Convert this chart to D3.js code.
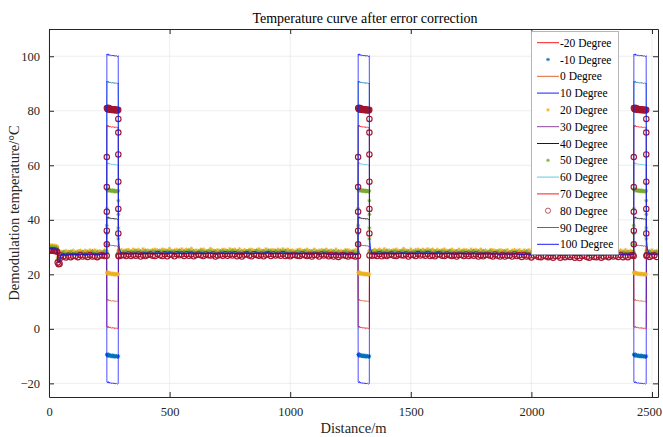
<!DOCTYPE html>
<html>
<head>
<meta charset="utf-8">
<script src="https://cdn.jsdelivr.net/npm/d3@7/dist/d3.min.js"></script>
<style>
  body { margin: 0; background: #fff; }
  svg { display: block; font-family: "Liberation Serif", "Times New Roman", serif; }
</style>
</head>
<body>
<svg id="chart" width="663" height="437"></svg>
<script>
// ---- data ----
const xTicks = [0, 500, 1000, 1500, 2000, 2500];
const yTicks = [-20, 0, 20, 40, 60, 80, 100];

// fibre start, before the regular grid (m, °C)
const headDistance = [0, 5, 10, 15, 20, 25, 30, 34, 36, 40, 44, 48];
const headTemp = [29.5, 29.7, 29.6, 29.7, 29.5, 29.6, 29.4, 29.2, 25.2, 24.6, 24.8, 27.0];

// room temperature along the fibre, every 10 m from 50 m to 2520 m
const gridStart = 50, gridStep = 10;
const baseTemp = [
  27.4, 27.5, 27.3, 27.4, 27.6, 27.5, 27.4, 27.5, 27.6, 27.5, 27.4, 27.5, 27.6, 27.7, 27.5, 27.6, 27.5, 27.6, 27.7, 27.6,
  27.6, 27.6, 27.6, 27.6, 27.9, 27.7, 27.8, 27.9, 27.8, 27.7, 27.8, 27.9, 27.8, 27.7, 27.9, 28.0, 27.8, 27.9, 27.8, 27.9,
  28.0, 27.9, 27.8, 28.0, 27.9, 28.1, 27.9, 27.8, 27.9, 28.0, 27.9, 27.8, 27.9, 28.0, 28.1, 27.9, 27.8, 27.9, 28.0, 27.9,
  27.8, 27.9, 28.0, 27.9, 27.8, 27.7, 27.9, 28.0, 27.9, 27.8, 27.9, 28.0, 27.9, 27.8, 27.9, 27.8, 27.9, 28.0, 27.9, 27.8,
  27.9, 28.0, 27.9, 27.8, 27.9, 28.0, 28.1, 27.9, 27.8, 27.9, 27.8, 27.9, 28.0, 27.9, 27.8, 27.9, 27.8, 27.7, 27.8, 27.9,
  27.8, 27.9, 27.8, 27.7, 27.8, 27.9, 27.8, 27.7, 27.8, 27.9, 27.8, 27.7, 27.6, 27.7, 27.8, 27.7, 27.6, 27.7, 27.8, 27.7,
  27.6, 27.7, 27.6, 27.6, 27.6, 27.6, 27.6, 27.6, 27.9, 27.8, 27.7, 27.8, 27.9, 27.8, 27.9, 28.0, 27.8, 27.9, 27.8, 27.9,
  27.8, 27.9, 28.0, 27.9, 27.8, 27.9, 27.8, 27.9, 28.0, 27.9, 27.8, 27.9, 28.0, 27.9, 27.8, 27.9, 28.0, 27.9, 27.8, 27.9,
  27.8, 27.9, 27.8, 27.7, 27.8, 27.9, 27.8, 27.9, 27.8, 27.7, 27.8, 27.9, 27.8, 27.7, 27.8, 27.9, 27.8, 27.7, 27.8, 27.7,
  27.8, 27.7, 27.6, 27.7, 27.8, 27.7, 27.6, 27.7, 27.8, 27.7, 27.6, 27.5, 27.6, 27.7, 27.6, 27.5, 27.6, 27.5, 27.4, 27.5,
  27.4, 27.5, 27.4, 27.3, 27.4, 27.5, 27.4, 27.3, 27.4, 27.3, 27.4, 27.5, 27.4, 27.3, 27.4, 27.3, 27.4, 27.5, 27.4, 27.3,
  27.4, 27.3, 27.4, 27.5, 27.4, 27.3, 27.4, 27.5, 27.4, 27.5, 27.4, 27.5, 27.6, 27.5, 27.6, 27.6, 27.6, 27.6, 27.6, 27.6,
  27.6, 27.6, 27.6, 27.6, 27.7, 27.6, 27.7, 27.6
];
// second reading scatter around it, for the marker series (°C, same grid)
const scatter = [
  0.3, -0.2, 0.4, -0.3, 0.1, -0.4, 0.2, 0.3, -0.1, -0.3, 0.4, 0.0, -0.2, 0.3, -0.4, 0.1, 0.2, -0.3, 0.4, -0.1
];

// heated sections of the fibre (m)
const heatStart = [240, 1282, 2425];
const heatEnd = [287, 1328, 2476];
// small ripple along each heated section (°C, added to the level)
const plateauShape = [0.6, 0.2, 0.7, 0.1, 0.4, 0.0, 0.3, 0.1, -0.1, 0.2, -0.1, 0.2, -0.2, 0.1, -0.2, 0.0, -0.1, -0.3, 0.0];

const seriesNames = ['-20 Degree', '-10 Degree', '0 Degree', '10 Degree', '20 Degree', '30 Degree', '40 Degree',
  '50 Degree', '60 Degree', '70 Degree', '80 Degree', '90 Degree', '100 Degree'];
const seriesColors = ['#ff0000', '#0072bd', '#d95319', '#0000ff', '#edb120', '#7e2f8e', '#000000',
  '#77ac30', '#4dbeee', '#ff0000', '#a2142f', '#0072bd', '#0000ff'];
const seriesMarker = ['line', 'star', 'line', 'line', 'star', 'line', 'line',
  'star', 'line', 'line', 'circle', 'line', 'line'];
// level reached inside the heated sections
const seriesLevel = [0.3, -10, 10.2, -20, 20.1, 30.5, 40.4, 50.6, 60.3, 74.0, 80.4, 90.2, 100.2];
// shift of each series against the room temperature curve
const seriesOffset = [-0.1, 0.3, 0.0, -0.2, 1.0, 0.1, 0.3, 0.4, 0.1, -0.3, -0.9, 0.0, -0.2];
// points caught on the rising / falling edge
const edgeUp = { '80 Degree': [31, 36, 43, 52, 63], '50 Degree': [31, 35, 38, 44] };
const edgeDown = { '80 Degree': [77, 72, 64, 54, 44, 35], '50 Degree': [47, 42, 37, 33] };
// overshoot just after each heated section
const tailTemp = { '100 Degree': [34, 30.5, 28.6], '90 Degree': [32.5, 29.5] };

// ---- layout ----
const svg = d3.select('#chart');
const margin = { left: 49, right: 5, top: 29, bottom: 40 };
const W = 663, H = 437;
const x = d3.scaleLinear([0, 2525], [margin.left, W - margin.right]);
const y = d3.scaleLinear([-25, 110], [H - margin.bottom, margin.top]);
const [x0, x1] = x.range();
const [y0, y1] = y.range();
const serif = '"Liberation Serif", "Times New Roman", serif';

function baseAt(d) {
  const i = Math.max(0, Math.min(baseTemp.length - 1, Math.round((d - gridStart) / gridStep)));
  return baseTemp[i];
}

function buildSeries(idx) {
  const name = seriesNames[idx], off = seriesOffset[idx], level = seriesLevel[idx];
  const isMarker = seriesMarker[idx] !== 'line';
  const tail = tailTemp[name] || [];
  const pts = [];
  headDistance.forEach((d, i) => pts.push([d, headTemp[i] + off]));
  baseTemp.forEach((t, i) => {
    const d = gridStart + i * gridStep;
    const inHeat = heatStart.some((s, k) => d >= s - 2 && d <= heatEnd[k] + 2 + tail.length * 3);
    const jitter = isMarker ? scatter[(i + idx * 7) % scatter.length] : 0;
    if (!inHeat) pts.push([d, t + off + jitter]);
  });
  heatStart.forEach((s, k) => {
    const e = heatEnd[k];
    pts.push([s - 0.8, baseAt(s - 10) + off]);
    (edgeUp[name] || []).forEach(v => pts.push([s - 0.4, v]));
    plateauShape.forEach((v, i) => pts.push([s + (e - s) * i / (plateauShape.length - 1), level + v]));
    (edgeDown[name] || []).forEach(v => pts.push([e + 0.4, v]));
    if (tail.length) tail.forEach((v, i) => pts.push([e + 0.8 + i * 3, v]));
    else pts.push([e + 0.8, baseAt(e + 10) + off]);
  });
  pts.sort((a, b) => a[0] - b[0]);
  return pts;
}

const allSeries = seriesNames.map((name, i) => ({
  name, color: seriesColors[i], marker: seriesMarker[i], points: buildSeries(i)
}));

// ---- grid ----
const gridG = svg.append('g').attr('stroke', '#e3e3e3').attr('stroke-width', 0.6);
gridG.selectAll('.gx').data(xTicks).join('line')
  .attr('x1', d => x(d)).attr('x2', d => x(d)).attr('y1', y0).attr('y2', y1);
gridG.selectAll('.gy').data(yTicks).join('line')
  .attr('y1', d => y(d)).attr('y2', d => y(d)).attr('x1', x0).attr('x2', x1);

// ---- data ----
svg.append('defs').append('clipPath').attr('id', 'plotClip')
  .append('rect').attr('x', x0).attr('y', y1).attr('width', x1 - x0).attr('height', y0 - y1);
const plot = svg.append('g').attr('clip-path', 'url(#plotClip)');
const line = d3.line().x(d => x(d[0])).y(d => y(d[1]));
const starPath = s => `M${-s},0H${s}M0,${-s}V${s}M${-s * 0.7},${-s * 0.7}L${s * 0.7},${s * 0.7}M${-s * 0.7},${s * 0.7}L${s * 0.7},${-s * 0.7}`;

allSeries.forEach(sr => {
  if (sr.marker === 'line') {
    plot.append('path').datum(sr.points)
      .attr('fill', 'none').attr('stroke', sr.color).attr('stroke-width', 0.7)
      .attr('d', line);
  } else if (sr.marker === 'star') {
    plot.append('g').selectAll('path').data(sr.points).join('path')
      .attr('transform', d => `translate(${x(d[0])},${y(d[1])})`)
      .attr('d', starPath(1.9))
      .attr('stroke', sr.color).attr('stroke-width', 0.9).attr('fill', 'none');
  } else {
    plot.append('g').selectAll('circle').data(sr.points).join('circle')
      .attr('cx', d => x(d[0])).attr('cy', d => y(d[1])).attr('r', 2.7)
      .attr('fill', 'none').attr('stroke', sr.color).attr('stroke-width', 1.1);
  }
});

// ---- axes box with inward ticks ----
const axisColor = '#262626';
const styleAxis = g => g
  .attr('font-family', serif)
  .call(g => g.selectAll('text').attr('font-size', 12.5).attr('fill', axisColor).style('font-family', serif))
  .call(g => g.selectAll('line, path').attr('stroke', axisColor));
svg.append('g')
  .attr('transform', `translate(0,${y0})`)
  .call(d3.axisBottom(x).tickValues(xTicks).tickFormat(d3.format('d')).tickSizeInner(-5).tickSizeOuter(0).tickPadding(10))
  .call(styleAxis)
  .call(g => g.selectAll('text').filter(d => d === 2500).attr('dx', -3));
svg.append('g')
  .attr('transform', `translate(0,${y1})`)
  .call(d3.axisTop(x).tickValues(xTicks).tickSizeInner(-5).tickSizeOuter(0).tickFormat(''))
  .call(styleAxis);
svg.append('g')
  .attr('transform', `translate(${x0},0)`)
  .call(d3.axisLeft(y).tickValues(yTicks).tickSizeInner(-5).tickSizeOuter(0).tickPadding(9))
  .call(styleAxis);
svg.append('g')
  .attr('transform', `translate(${x1},0)`)
  .call(d3.axisRight(y).tickValues(yTicks).tickSizeInner(-5).tickSizeOuter(0).tickFormat(''))
  .call(styleAxis);

// ---- titles ----
svg.append('text').attr('x', 365).attr('y', 23).attr('text-anchor', 'middle')
  .attr('font-size', 14).attr('fill', '#000').text('Temperature curve after error correction');
svg.append('text').attr('x', (x0 + x1) / 2).attr('y', 433).attr('text-anchor', 'middle')
  .attr('font-size', 14.5).attr('fill', axisColor).text('Distance/m');
svg.append('text').attr('transform', `translate(19,${(y0 + y1) / 2}) rotate(-90)`)
  .attr('text-anchor', 'middle').attr('font-size', 14.5).attr('fill', axisColor)
  .text('Demodulation temperature/°C');

// ---- legend ----
const lg = svg.append('g');
lg.append('rect').attr('x', 531.5).attr('y', 31.5).attr('width', 87).attr('height', 223)
  .attr('fill', '#fff').attr('stroke', '#a6a6a6').attr('stroke-width', 0.8);
const rowY = i => 42.7 + i * 16.8;
allSeries.forEach((sr, i) => {
  const ry = rowY(i);
  if (sr.marker === 'line') {
    lg.append('line').attr('x1', 537).attr('x2', 559).attr('y1', ry).attr('y2', ry)
      .attr('stroke', sr.color).attr('stroke-width', 0.9);
  } else if (sr.marker === 'star') {
    lg.append('path').attr('transform', `translate(548,${ry})`).attr('d', starPath(1.8))
      .attr('stroke', sr.color).attr('stroke-width', 0.8).attr('fill', 'none');
  } else {
    lg.append('circle').attr('cx', 548).attr('cy', ry).attr('r', 2.6)
      .attr('fill', 'none').attr('stroke', sr.color).attr('stroke-width', 0.7);
  }
  lg.append('text').attr('x', 560).attr('y', ry + 4).attr('font-size', 11.5)
    .attr('fill', '#000').text(sr.name);
});
</script>
</body>
</html>
